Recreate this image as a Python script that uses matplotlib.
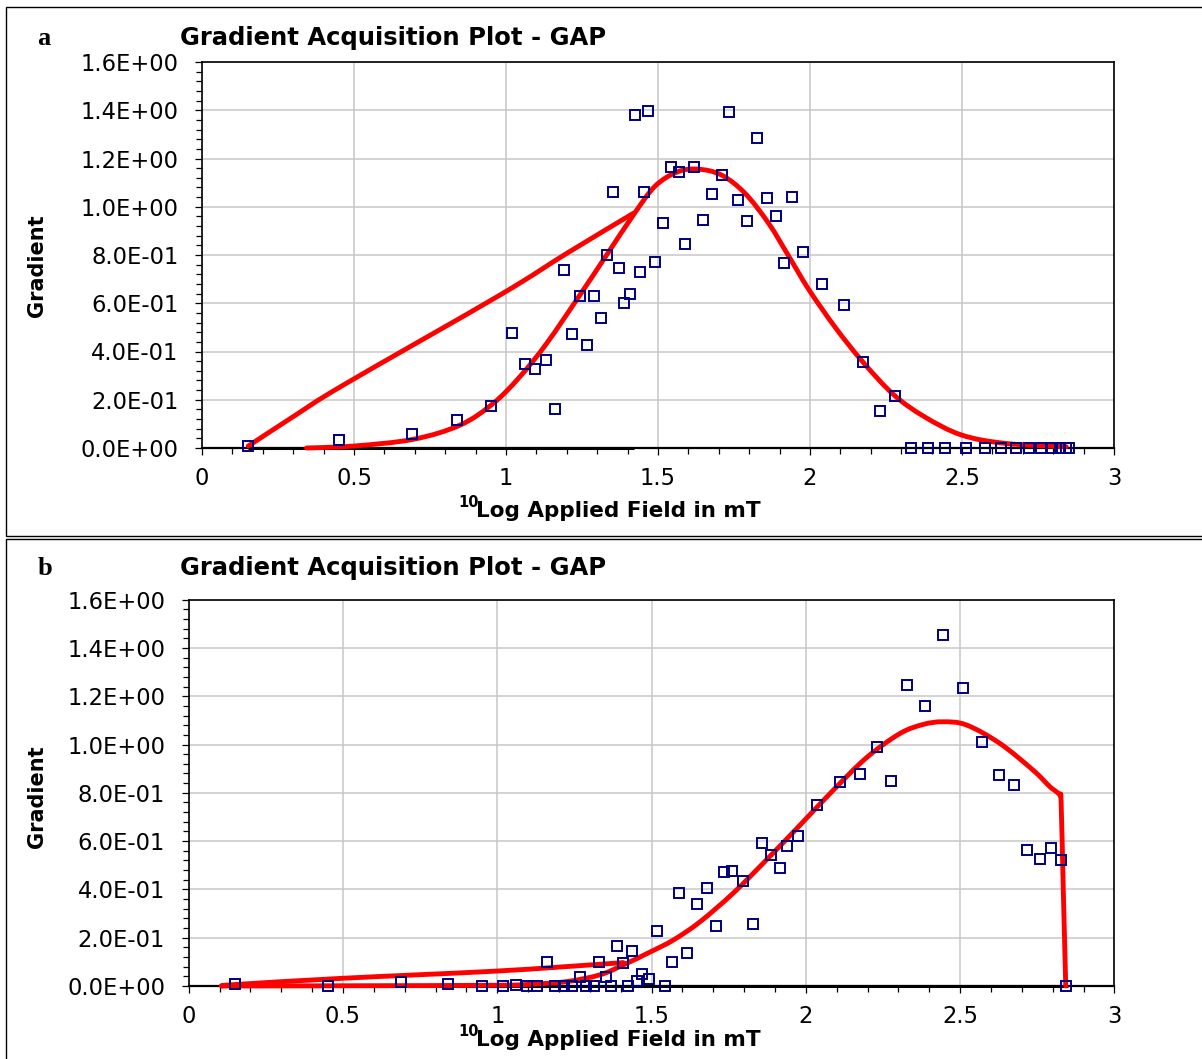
import matplotlib
matplotlib.use("Agg")
import numpy as np
import matplotlib.pyplot as plt
from matplotlib.patches import Rectangle, PathPatch
from matplotlib.path import Path
from matplotlib.ticker import MultipleLocator

# ---------------- data ----------------
# Panel a: measured gradients
xa = [0.152, 0.452, 0.690, 0.840, 0.951, 1.020, 1.061, 1.096, 1.130, 1.162,
      1.190, 1.217, 1.243, 1.266, 1.289, 1.312, 1.331, 1.352, 1.371, 1.388,
      1.407, 1.423, 1.440, 1.455, 1.466, 1.489, 1.517, 1.542, 1.568, 1.590,
      1.617, 1.647, 1.679, 1.711, 1.735, 1.763, 1.794, 1.827, 1.859, 1.887,
      1.916, 1.941, 1.976, 2.039, 2.112, 2.174, 2.229, 2.278,
      2.331, 2.388, 2.445, 2.512, 2.575, 2.628, 2.677, 2.719, 2.759, 2.795,
      2.823, 2.843, 2.851]
ya = [0.008, 0.033, 0.057, 0.115, 0.175, 0.478, 0.349, 0.327, 0.363, 0.162,
      0.736, 0.474, 0.630, 0.428, 0.629, 0.540, 0.800, 1.061, 0.745, 0.603,
      0.640, 1.379, 0.728, 1.061, 1.398, 0.771, 0.934, 1.166, 1.143, 0.846,
      1.163, 0.945, 1.051, 1.133, 1.393, 1.026, 0.943, 1.284, 1.035, 0.962,
      0.766, 1.039, 0.812, 0.680, 0.594, 0.355, 0.152, 0.217,
      0, 0, 0, 0, 0, 0, 0, 0, 0, 0, 0, 0, 0]

# Panel a: model curve (two branches)
xa_fit_up = [0.152, 0.300, 0.465, 0.980, 1.200, 1.419]
ya_fit_up = [0.008, 0.130, 0.261, 0.634, 0.807, 0.973]
xa_fit = [0.344, 0.498, 0.695, 0.849, 0.958, 1.046, 1.134, 1.243, 1.331, 1.419,
          1.490, 1.563, 1.630, 1.708, 1.786, 1.864, 1.931, 1.997, 2.086, 2.175,
          2.276, 2.376, 2.498, 2.643, 2.843]
ya_fit = [0.000, 0.008, 0.036, 0.095, 0.185, 0.296, 0.434, 0.634, 0.800, 0.966,
          1.085, 1.144, 1.156, 1.132, 1.056, 0.931, 0.793, 0.655, 0.495, 0.355,
          0.220, 0.130, 0.054, 0.019, 0.005]
xa_zero = [0.15, 1.42]
ya_zero = [0.0, 0.0]

# Panel b: measured gradients
xb = [0.150, 0.450, 0.689, 0.839, 0.950, 1.019, 1.059, 1.095, 1.128, 1.161,
      1.188, 1.217, 1.243, 1.267, 1.287, 1.312, 1.331, 1.351, 1.370, 1.387,
      1.406, 1.423, 1.437, 1.452, 1.469, 1.490, 1.517, 1.542, 1.566, 1.589,
      1.616, 1.646, 1.680, 1.710, 1.736, 1.761, 1.795, 1.827, 1.858, 1.887,
      1.915, 1.940, 1.976, 2.037, 2.111, 2.174, 2.229, 2.276, 2.329, 2.386,
      2.444, 2.508, 2.571, 2.626, 2.673, 2.718, 2.757, 2.793, 2.828, 2.842]
yb = [0.008, 0.001, 0.015, 0.008, 0.001, 0.001, 0.006, 0.0, 0.0, 0.101,
      0.0, 0.0, 0.0, 0.036, 0.0, 0.0, 0.099, 0.036, 0.0, 0.164,
      0.097, 0.0, 0.144, 0.019, 0.051, 0.028, 0.226, 0.0, 0.101, 0.386,
      0.135, 0.341, 0.404, 0.248, 0.473, 0.476, 0.435, 0.255, 0.594, 0.544,
      0.489, 0.578, 0.622, 0.751, 0.846, 0.878, 0.991, 0.849, 1.246, 1.158,
      1.453, 1.233, 1.012, 0.874, 0.831, 0.565, 0.525, 0.571, 0.522, 0.0]

# Panel b: model curve (two branches)
xb_fit_up = [0.107, 0.150, 0.500, 1.000, 1.332, 1.408]
yb_fit_up = [0.000, 0.006, 0.032, 0.062, 0.090, 0.097]
xb_fit = [0.107, 0.500, 1.000, 1.116, 1.224, 1.332, 1.408, 1.494, 1.570, 1.656,
          1.764, 1.872, 1.980, 2.088, 2.196, 2.304, 2.380, 2.444, 2.520, 2.628,
          2.736, 2.790, 2.810, 2.823, 2.827, 2.834, 2.842]
yb_fit = [0.000, 0.001, 0.003, 0.008, 0.018, 0.046, 0.087, 0.140, 0.190, 0.265,
          0.384, 0.522, 0.665, 0.810, 0.945, 1.045, 1.083, 1.094, 1.081, 1.005,
          0.894, 0.826, 0.806, 0.790, 0.760, 0.400, 0.000]
xb_zero = [0.10, 2.85]
yb_zero = [0.0, 0.0]

x_ticks = [0, 0.5, 1, 1.5, 2, 2.5, 3]
x_ticklabels = ["0", "0.5", "1", "1.5", "2", "2.5", "3"]
y_ticks = [0.0, 0.2, 0.4, 0.6, 0.8, 1.0, 1.2, 1.4, 1.6]
y_ticklabels = ["0.0E+00", "2.0E-01", "4.0E-01", "6.0E-01", "8.0E-01",
                "1.0E+00", "1.2E+00", "1.4E+00", "1.6E+00"]

title_text = "Gradient Acquisition Plot - GAP"
xlabel_sup = "10"
xlabel_text = "Log Applied Field in mT"
ylabel_text = "Gradient"

# ---------------- figure ----------------
W, H = 1202, 1059
fig = plt.figure(figsize=(W / 100, H / 100), dpi=100)
fig.patch.set_facecolor("white")


def fx(x):
    return x / W


def fy(y):
    return 1 - y / H


# panel frames
fig.patches.append(Rectangle((fx(5.5), fy(536)), fx(1210) - fx(5.5), fy(7) - fy(536),
                             transform=fig.transFigure, fill=False, ec="black", lw=1.0))
fig.patches.append(Rectangle((fx(5.5), fy(1070)), fx(1210) - fx(5.5), fy(538.5) - fy(1070),
                             transform=fig.transFigure, fill=False, ec="black", lw=1.0))

NAVY = "#000080"
RED = "#ff0000"


def smooth_path(xs, ys):
    """Smoothed line through the given points (like a spreadsheet 'smoothed line')."""
    pts = np.column_stack([xs, ys]).astype(float)
    n = len(pts)
    verts = [pts[0]]
    codes = [Path.MOVETO]
    for i in range(n - 1):
        p0 = pts[i - 1] if i > 0 else pts[i]
        p1 = pts[i]
        p2 = pts[i + 1]
        p3 = pts[i + 2] if i + 2 < n else pts[i + 1]
        verts += [p1 + (p2 - p0) / 6.0, p2 - (p3 - p1) / 6.0, p2]
        codes += [Path.CURVE4] * 3
    return Path(verts, codes)


def style_axes(ax):
    ax.set_xlim(0, 3)
    ax.set_ylim(0, 1.6)
    ax.set_xticks(x_ticks)
    ax.set_xticklabels(x_ticklabels)
    ax.set_yticks(y_ticks)
    ax.set_yticklabels(y_ticklabels)
    ax.xaxis.set_minor_locator(MultipleLocator(0.1))
    ax.yaxis.set_minor_locator(MultipleLocator(0.04))
    ax.grid(True, which="major", color="#c8c8c8", lw=1.1)
    ax.set_axisbelow(True)
    ax.tick_params(which="major", direction="out", length=5, width=0.9, color="black",
                   labelsize=16.3, labelcolor="black")
    ax.tick_params(which="minor", direction="out", length=4.2, width=0.9, color="black")
    ax.tick_params(axis="y", which="major", pad=12)
    ax.tick_params(axis="x", which="major", pad=9)
    for s in ax.spines.values():
        s.set_color("black")
        s.set_linewidth(1.2)
    ax.spines["bottom"].set_linewidth(1.6)
    for lab in ax.get_xticklabels() + ax.get_yticklabels():
        lab.set_family("DejaVu Sans")


def draw_panel(ax, x, y, xu, yu, xf, yf, xz, yz):
    style_axes(ax)
    ax.plot(xz, yz, color="black", lw=2.2, zorder=2, clip_on=False, solid_capstyle="butt")
    for cx, cy in ((xu, yu), (xf, yf)):
        patch = PathPatch(smooth_path(cx, cy), fill=False, ec=RED, lw=3.5,
                          capstyle="round", joinstyle="round", zorder=3,
                          transform=ax.transData, clip_on=False)
        ax.add_patch(patch)
    ax.plot(x, y, linestyle="none", marker="s", ms=6.5, mfc="none", mec=NAVY,
            mew=1.4, zorder=4, clip_on=False)


axA = fig.add_axes([fx(202), fy(448), (1114 - 202) / W, 386 / H])
draw_panel(axA, xa, ya, xa_fit_up, ya_fit_up, xa_fit, ya_fit, xa_zero, ya_zero)

axB = fig.add_axes([fx(188.7), fy(986), (1114.5 - 188.7) / W, 386.4 / H])
draw_panel(axB, xb, yb, xb_fit_up, yb_fit_up, xb_fit, yb_fit, xb_zero, yb_zero)

# texts
for (lab, lx, ly, ty, xly, yly) in [("a", 37, 45, 45, 517, 266), ("b", 38, 575, 575, 1046, 797)]:
    fig.text(fx(lx), fy(ly), lab, family="Liberation Serif", weight="bold",
             fontsize=19, ha="left", va="baseline")
    fig.text(fx(180), fy(ty), title_text, family="DejaVu Sans", weight="bold",
             fontsize=17.5, ha="left", va="baseline")
    fig.text(fx(458), fy(xly - 10), xlabel_sup, family="DejaVu Sans", weight="bold",
             fontsize=10.5, ha="left", va="baseline")
    fig.text(fx(476), fy(xly), xlabel_text, family="DejaVu Sans", weight="bold",
             fontsize=15.5, ha="left", va="baseline")
    fig.text(fx(37), fy(yly), ylabel_text, family="DejaVu Sans", weight="bold",
             fontsize=15, ha="center", va="center", rotation=90)

fig.savefig("out.png", dpi=100)
